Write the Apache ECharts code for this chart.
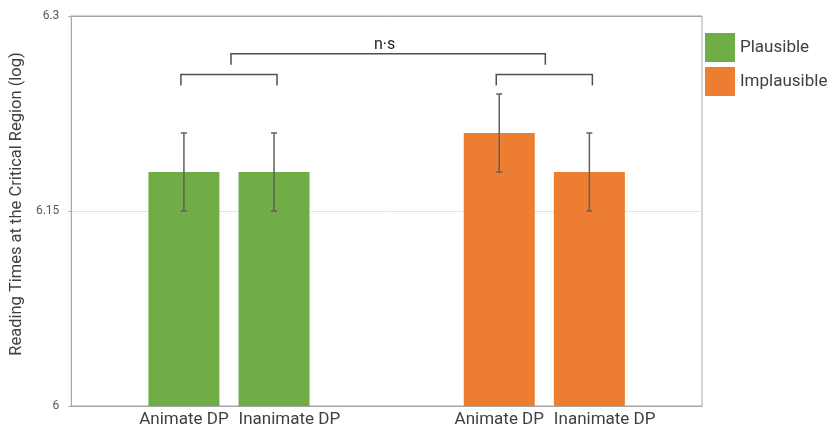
<!DOCTYPE html>
<html>
<head>
<meta charset="utf-8">
<script src="https://cdn.jsdelivr.net/npm/echarts@6/dist/echarts.min.js"></script>
<style>
  html, body { margin: 0; padding: 0; background: #fff; }
  #chart { width: 827px; height: 433px; }
</style>
</head>
<body>
<div id="chart"></div>
<script>
// data
const categories = ["Animate DP", "Inanimate DP", "Animate DP", "Inanimate DP"];
const conditions = ["Plausible", "Plausible", "Implausible", "Implausible"];
const means = [6.18, 6.18, 6.21, 6.18];
const errors = [0.03, 0.03, 0.03, 0.03];
const yTicks = [6, 6.15, 6.3];
const groups = ["Plausible", "Implausible"];
const groupColors = ["#70AD47", "#ED7D31"];
// significance brackets: pairs of bars, and one between the pairs
const pairBrackets = [[0, 1], [2, 3]];
const pairTop = 6.255, pairDrop = 6.2465;
const outerTop = 6.271, outerDrop = 6.2625;
const outerLabel = "n·s";

// layout: bars sit on a 14 slot category axis
const slotCount = 14;
const barSlots = [2, 4, 9, 11];
const barWidth = 71;
const labelFont = "Roboto";
const labelSize = 17;
// the "Inanimate DP" labels start at the bar's left edge in the original
const labelLeftAligned = [false, true, false, true];

const slots = [];
for (let i = 0; i < slotCount; i++) slots.push("s" + i);

const seriesData = groups.map((g) => {
  const arr = slots.map(() => "-");
  conditions.forEach((c, i) => {
    if (c === g) arr[barSlots[i]] = means[i];
  });
  return arr;
});

const errData = means.map((m, i) => [barSlots[i], m - errors[i], m + errors[i]]);

// measure label text so left aligned labels can be shifted with padding
const ctx = document.createElement("canvas").getContext("2d");
ctx.font = labelSize + "px " + labelFont;
const rich = {};
categories.forEach((c, i) => {
  const w = ctx.measureText(c).width;
  rich["c" + i] = {
    fontSize: labelSize,
    fontFamily: labelFont,
    color: "#404040",
    padding: labelLeftAligned[i] ? [0, 0, 0, Math.max(0, w - barWidth)] : 0,
  };
});

const chart = echarts.init(document.getElementById("chart"));

const option = {
  animation: false,
  textStyle: { fontFamily: labelFont },
  grid: {
    left: 70, right: 125, top: 16, bottom: 27,
    show: true, borderColor: "#a6a6a6", borderWidth: 1,
  },
  legend: {
    data: groups,
    orient: "vertical",
    left: 700, top: 28,
    itemWidth: 30, itemHeight: 29, itemGap: 5,
    icon: "rect",
    textStyle: { fontSize: 17, color: "#404040", fontFamily: labelFont },
  },
  xAxis: {
    type: "category",
    data: slots,
    axisLine: { lineStyle: { color: "#a6a6a6" } },
    axisTick: { show: false },
    axisLabel: {
      interval: 0,
      margin: 5,
      fontSize: labelSize,
      color: "#404040",
      rich,
      formatter: (v, idx) => {
        const k = barSlots.indexOf(idx);
        return k >= 0 ? "{c" + k + "|" + categories[k] + "}" : "";
      },
    },
  },
  yAxis: {
    type: "value",
    min: yTicks[0],
    max: yTicks[yTicks.length - 1],
    interval: yTicks[1] - yTicks[0],
    name: "Reading Times at the Critical Region (log)",
    nameLocation: "middle",
    nameGap: 42,
    nameTextStyle: { fontSize: 16.5, color: "#404040", padding: [0, 0, 0, 14] },
    axisLine: { show: true, lineStyle: { color: "#a6a6a6" } },
    axisTick: { show: true, length: 3, lineStyle: { color: "#a6a6a6" } },
    axisLabel: { fontSize: 12, color: "#595959", margin: 12 },
    splitLine: { lineStyle: { color: ["#a6a6a6", "#e3e3e3", "#a6a6a6"] } },
  },
  series: [
    ...groups.map((g, gi) => ({
      name: g,
      type: "bar",
      data: seriesData[gi],
      barWidth: barWidth,
      barGap: "-100%",
      itemStyle: { color: groupColors[gi] },
    })),
    {
      type: "custom",
      name: "err",
      data: errData,
      z: 10,
      renderItem: (params, api) => {
        const x = api.value(0);
        const lo = api.coord([x, api.value(1)]);
        const hi = api.coord([x, api.value(2)]);
        const cap = 3;
        const style = { stroke: "#606060", lineWidth: 1.5 };
        return {
          type: "group",
          children: [
            { type: "line", shape: { x1: lo[0], y1: lo[1], x2: hi[0], y2: hi[1] }, style },
            { type: "line", shape: { x1: lo[0] - cap, y1: lo[1], x2: lo[0] + cap, y2: lo[1] }, style },
            { type: "line", shape: { x1: hi[0] - cap, y1: hi[1], x2: hi[0] + cap, y2: hi[1] }, style },
          ],
        };
      },
    },
    {
      type: "custom",
      name: "brackets",
      data: [0],
      z: 10,
      silent: true,
      renderItem: (params, api) => {
        const style = { stroke: "#505050", lineWidth: 1.5, fill: null };
        const children = [];
        const mids = [];
        pairBrackets.forEach(([a, b]) => {
          const pa = api.coord([barSlots[a], pairTop]);
          const pb = api.coord([barSlots[b], pairTop]);
          const d = api.coord([barSlots[a], pairDrop]);
          const x1 = pa[0] - 3, x2 = pb[0] + 3;
          children.push({
            type: "polyline",
            shape: { points: [[x1, d[1]], [x1, pa[1]], [x2, pa[1]], [x2, d[1]]] },
            style,
          });
          mids.push((barSlots[a] + barSlots[b]) / 2);
        });
        const oa = api.coord([mids[0], outerTop]);
        const ob = api.coord([mids[1], outerTop]);
        const od = api.coord([mids[0], outerDrop]);
        children.push({
          type: "polyline",
          shape: { points: [[oa[0] + 2, od[1]], [oa[0] + 2, oa[1]], [ob[0] + 1, oa[1]], [ob[0] + 1, od[1]]] },
          style,
        });
        children.push({
          type: "text",
          style: {
            text: outerLabel,
            x: (oa[0] + ob[0]) / 2 - 2,
            y: oa[1] - 1,
            align: "center",
            verticalAlign: "bottom",
            fontSize: 16,
            fontFamily: labelFont,
            fill: "#1f1f1f",
          },
        });
        return { type: "group", children };
      },
    },
  ],
};

chart.setOption(option);
window.addEventListener("resize", () => chart.resize());
</script>
</body>
</html>
